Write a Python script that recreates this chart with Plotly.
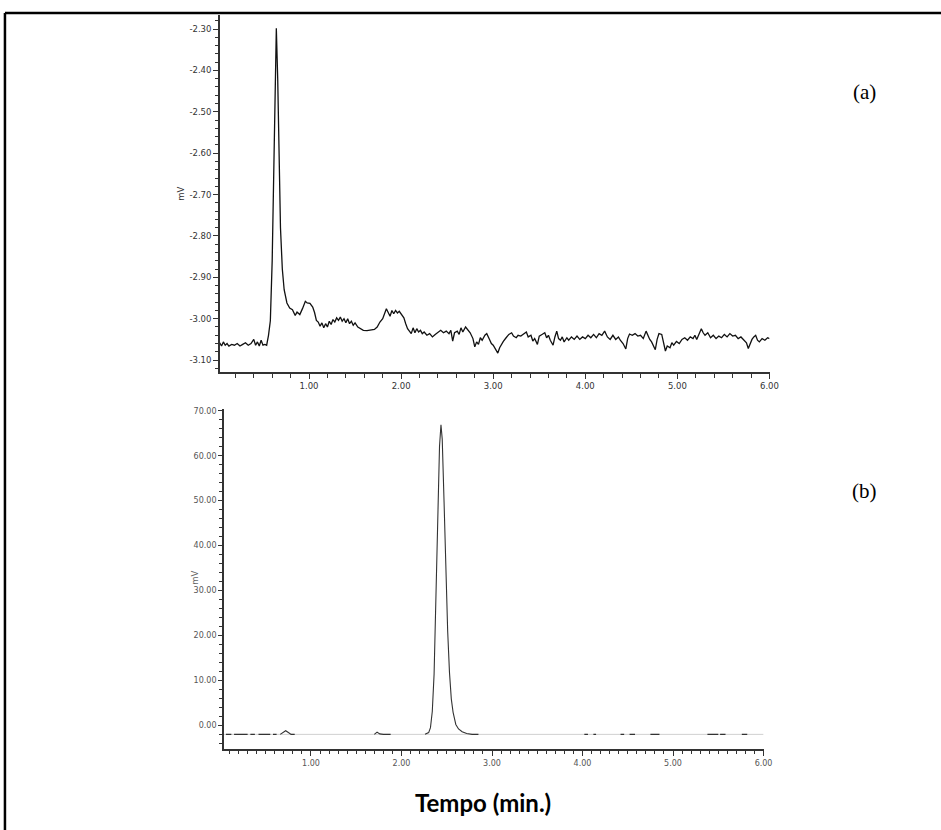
import plotly.graph_objects as go

# ---------------- Panel (a) data: time (min) and signal (mV) ----------------
a_time = [0.03, 0.05, 0.07, 0.09, 0.11, 0.13, 0.16, 0.19, 0.22, 0.25, 0.28, 0.31, 0.34, 0.37,
          0.40, 0.42, 0.44, 0.46, 0.48, 0.50, 0.52, 0.54, 0.56, 0.58, 0.60, 0.615, 0.63, 0.645,
          0.66, 0.675, 0.69, 0.71, 0.73, 0.76, 0.79, 0.82, 0.85, 0.87, 0.90, 0.93, 0.96, 0.98,
          1.01, 1.04, 1.06, 1.08, 1.10, 1.12, 1.14, 1.16, 1.18, 1.20, 1.22, 1.24, 1.26, 1.28,
          1.30, 1.32, 1.34, 1.36, 1.38, 1.40, 1.42, 1.44, 1.46, 1.48, 1.50, 1.53, 1.56, 1.59,
          1.63, 1.67, 1.71, 1.74, 1.77, 1.80, 1.82, 1.84, 1.86, 1.88, 1.90, 1.92, 1.94, 1.96,
          1.98, 2.00, 2.03, 2.05, 2.07, 2.09, 2.11, 2.13, 2.15, 2.17, 2.19, 2.21, 2.23, 2.25,
          2.28, 2.31, 2.34, 2.37, 2.40, 2.43, 2.46, 2.49, 2.52, 2.54, 2.56, 2.58, 2.61, 2.63,
          2.65, 2.67, 2.70, 2.72, 2.75, 2.78, 2.80, 2.82, 2.84, 2.86, 2.88, 2.91, 2.93, 2.96,
          2.98, 3.00, 3.02, 3.05, 3.07, 3.09, 3.11, 3.14, 3.17, 3.20, 3.22, 3.25, 3.27, 3.30,
          3.33, 3.36, 3.38, 3.41, 3.43, 3.45, 3.48, 3.50, 3.53, 3.56, 3.58, 3.60, 3.62, 3.65,
          3.67, 3.69, 3.71, 3.73, 3.75, 3.77, 3.80, 3.82, 3.85, 3.88, 3.91, 3.94, 3.97, 4.00,
          4.03, 4.06, 4.09, 4.12, 4.15, 4.18, 4.21, 4.24, 4.27, 4.30, 4.33, 4.36, 4.38, 4.41,
          4.44, 4.46, 4.48, 4.51, 4.54, 4.57, 4.60, 4.63, 4.66, 4.68, 4.70, 4.72, 4.74, 4.76,
          4.78, 4.80, 4.83, 4.85, 4.87, 4.89, 4.92, 4.94, 4.96, 4.99, 5.02, 5.05, 5.08, 5.11,
          5.14, 5.17, 5.19, 5.21, 5.24, 5.26, 5.28, 5.30, 5.33, 5.36, 5.39, 5.42, 5.45, 5.48,
          5.51, 5.54, 5.57, 5.60, 5.63, 5.66, 5.69, 5.72, 5.75, 5.77, 5.79, 5.81, 5.83, 5.85,
          5.87, 5.89, 5.92, 5.95, 5.98, 6.00]
a_signal = [-3.058, -3.066, -3.056, -3.064, -3.060, -3.066, -3.062, -3.064, -3.060, -3.066,
            -3.062, -3.058, -3.064, -3.060, -3.050, -3.064, -3.056, -3.066, -3.052, -3.064,
            -3.062, -3.064, -3.040, -3.005, -2.860, -2.650, -2.450, -2.298, -2.420, -2.620,
            -2.780, -2.880, -2.930, -2.962, -2.974, -2.978, -2.992, -2.984, -2.990, -2.975,
            -2.958, -2.962, -2.963, -2.972, -2.985, -3.004, -3.008, -3.018, -3.010, -3.022,
            -3.012, -3.020, -3.006, -3.014, -3.002, -3.008, -2.998, -3.004, -2.996, -3.006,
            -3.000, -3.010, -3.000, -3.012, -3.006, -3.016, -3.010, -3.020, -3.024, -3.028,
            -3.029, -3.028, -3.026, -3.020, -3.008, -3.000, -2.985, -2.976, -2.985, -2.994,
            -2.980, -2.988, -2.980, -2.986, -2.982, -2.988, -2.998, -3.012, -3.024, -3.030,
            -3.036, -3.022, -3.034, -3.024, -3.032, -3.028, -3.036, -3.032, -3.040, -3.036,
            -3.044, -3.038, -3.032, -3.028, -3.034, -3.030, -3.036, -3.028, -3.054, -3.034,
            -3.030, -3.038, -3.022, -3.032, -3.020, -3.026, -3.034, -3.048, -3.068, -3.056,
            -3.062, -3.046, -3.052, -3.040, -3.036, -3.050, -3.060, -3.064, -3.072, -3.083,
            -3.070, -3.062, -3.055, -3.046, -3.038, -3.034, -3.042, -3.046, -3.040, -3.042,
            -3.036, -3.032, -3.044, -3.040, -3.054, -3.048, -3.062, -3.042, -3.038, -3.034,
            -3.046, -3.040, -3.052, -3.064, -3.044, -3.030, -3.048, -3.052, -3.044, -3.056,
            -3.046, -3.052, -3.044, -3.050, -3.042, -3.050, -3.044, -3.048, -3.040, -3.046,
            -3.038, -3.046, -3.036, -3.040, -3.030, -3.044, -3.050, -3.040, -3.050, -3.044,
            -3.052, -3.060, -3.073, -3.048, -3.037, -3.040, -3.036, -3.042, -3.040, -3.048,
            -3.030, -3.042, -3.050, -3.056, -3.066, -3.075, -3.050, -3.036, -3.038, -3.060,
            -3.078, -3.066, -3.070, -3.058, -3.064, -3.055, -3.060, -3.050, -3.046, -3.052,
            -3.044, -3.048, -3.040, -3.050, -3.032, -3.024, -3.034, -3.040, -3.034, -3.046,
            -3.040, -3.048, -3.042, -3.046, -3.038, -3.044, -3.036, -3.042, -3.040, -3.048,
            -3.044, -3.050, -3.058, -3.072, -3.060, -3.050, -3.044, -3.040, -3.052, -3.056,
            -3.048, -3.052, -3.046, -3.048]

# ---------------- Panel (b) data (None = gap in the drawn trace) ----------------
b_time = [0.06, 0.12, None, 0.15, 0.30, None, 0.33, 0.38, None, 0.42, 0.55, None, 0.58, 0.62, None,
          0.66, 0.69, 0.72, 0.75, 0.78, 0.82, None,
          1.70, 1.73, 1.76, 1.80, 1.88, None,
          2.26, 2.30, 2.32, 2.34, 2.36, 2.38, 2.40, 2.42, 2.436, 2.45, 2.47, 2.49, 2.51, 2.53,
          2.55, 2.57, 2.60, 2.63, 2.67, 2.72, 2.78, 2.85, None,
          4.02, 4.06, None, 4.12, 4.15, None, 4.42, 4.46, None, 4.52, 4.58, None,
          4.75, 4.85, None, 5.38, 5.50, None, 5.52, 5.58, None, 5.76, 5.82]
b_signal = [-2.0, -2.0, None, -2.0, -2.0, None, -2.0, -2.0, None, -2.0, -2.0, None, -2.0, -2.0, None,
            -2.0, -1.6, -1.2, -1.6, -2.0, -2.0, None,
            -2.0, -1.5, -1.9, -2.0, -2.0, None,
            -2.0, -1.6, -0.5, 3.1, 11.4, 26.3, 45.7, 62.1, 66.9, 63.7, 49.8, 34.0, 21.0, 11.8,
            5.9, 2.9, 0.2, -0.8, -1.4, -1.8, -2.0, -2.0, None,
            -2.0, -2.0, None, -2.0, -2.0, None, -2.0, -2.0, None, -2.0, -2.0, None,
            -2.0, -2.0, None, -2.0, -2.0, None, -2.0, -2.0, None, -2.0, -2.0]
b_base_time = [0.04, 6.0]
b_base_signal = [-2.0, -2.0]

# ---------------- Tick labels ----------------
a_xticks = [1, 2, 3, 4, 5, 6]
a_xlabels = ["1.00", "2.00", "3.00", "4.00", "5.00", "6.00"]
a_yticks = [-2.3, -2.4, -2.5, -2.6, -2.7, -2.8, -2.9, -3.0, -3.1]
a_ylabels = ["-2.30", "-2.40", "-2.50", "-2.60", "-2.70", "-2.80", "-2.90", "-3.00", "-3.10"]
b_xticks = [1, 2, 3, 4, 5, 6]
b_xlabels = ["1.00", "2.00", "3.00", "4.00", "5.00", "6.00"]
b_yticks = [0, 10, 20, 30, 40, 50, 60, 70]
b_ylabels = ["0.00", "10.00", "20.00", "30.00", "40.00", "50.00", "60.00", "70.00"]

W, H = 941, 830

def px_x(p):
    return p / W

def px_y(p):
    return 1 - p / H

fig = go.Figure()
fig.add_trace(go.Scatter(x=a_time, y=a_signal, mode="lines",
                         line=dict(color="#111", width=1.3), xaxis="x", yaxis="y",
                         showlegend=False, hoverinfo="skip"))
fig.add_trace(go.Scatter(x=b_base_time, y=b_base_signal, mode="lines",
                         line=dict(color="#d0d0d0", width=1), xaxis="x2", yaxis="y2",
                         showlegend=False, hoverinfo="skip"))
fig.add_trace(go.Scatter(x=b_time, y=b_signal, mode="lines", connectgaps=False,
                         line=dict(color="#333", width=1.1), xaxis="x2", yaxis="y2",
                         showlegend=False, hoverinfo="skip"))

tick_font_a = dict(family="DejaVu Sans", size=8.5, color="#333")
tick_font_b = dict(family="DejaVu Sans", size=8, color="#555")

axis_common = dict(showline=True, linecolor="#333", linewidth=1.5, showgrid=False,
                   zeroline=False, ticks="outside", tickcolor="#333", tickwidth=1,
                   mirror=False)

def ann(text, x, y, font, angle=0):
    return dict(text=text, xref="paper", yref="paper", x=px_x(x), y=px_y(y),
                xanchor="center", yanchor="middle", showarrow=False,
                textangle=angle, font=font)

fig.update_layout(
    width=W, height=H,
    margin=dict(l=0, r=0, t=0, b=0),
    paper_bgcolor="white", plot_bgcolor="white",
    xaxis=dict(**axis_common, domain=[px_x(222), px_x(777)], range=[0.032, 6.001],
               anchor="y", tickvals=a_xticks, ticktext=a_xlabels, ticklen=5,
               tickfont=tick_font_a,
               minor=dict(ticks="outside", dtick=0.2, tick0=0, ticklen=4, tickcolor="#333")),
    yaxis=dict(**axis_common, domain=[px_y(371), px_y(13)], range=[-3.129, -2.266],
               anchor="x", tickvals=a_yticks, ticktext=a_ylabels, ticklen=5,
               tickfont=tick_font_a,
               minor=dict(ticks="outside", dtick=0.02, tick0=-2.3, ticklen=3, tickcolor="#333")),
    xaxis2=dict(**axis_common, domain=[px_x(226), px_x(771)], range=[0.037, 6.001],
                anchor="y2", tickvals=b_xticks, ticktext=b_xlabels, ticklen=5,
                tickfont=tick_font_b,
                minor=dict(ticks="outside", dtick=0.1, tick0=0, ticklen=3, tickcolor="#333")),
    yaxis2=dict(**axis_common, domain=[px_y(749), px_y(408)], range=[-5.3, 70.4],
                anchor="x2", tickvals=b_yticks, ticktext=b_ylabels, ticklen=4,
                tickfont=tick_font_b,
                minor=dict(ticks="outside", dtick=2, tick0=0, ticklen=3, tickcolor="#333")),
    shapes=[
        dict(type="line", xref="paper", yref="paper", x0=px_x(5), x1=1.01,
             y0=px_y(11), y1=px_y(11), line=dict(color="black", width=2.5)),
        dict(type="line", xref="paper", yref="paper", x0=px_x(5), x1=px_x(5),
             y0=px_y(11), y1=-0.01, line=dict(color="black", width=2.5)),
    ],
    annotations=[
        ann("mV", 182, 192, dict(family="DejaVu Sans", size=8.5, color="#333"), -90),
        ann("mV", 196, 577, dict(family="DejaVu Sans", size=8.5, color="#666"), -90),
        ann("(a)", 873, 90, dict(family="Liberation Serif", size=21, color="black")),
        ann("(b)", 873, 490, dict(family="Liberation Serif", size=21, color="black")),
        ann("<b>Tempo (min.)</b>", 488, 802, dict(family="Lato", size=24, color="black")),
    ],
)

fig.write_html("out.html")
